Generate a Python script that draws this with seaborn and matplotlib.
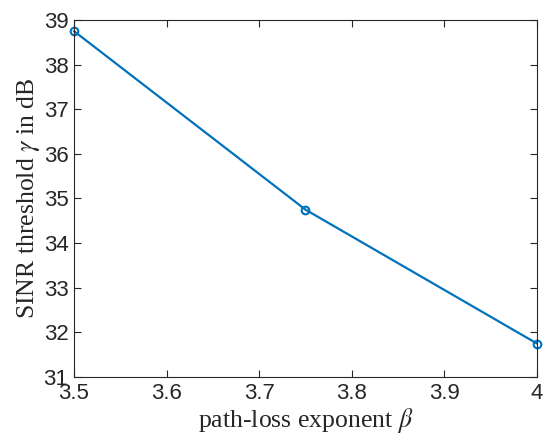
import matplotlib
matplotlib.use("Agg")
import matplotlib.pyplot as plt
import seaborn as sns
import pandas as pd

# data
beta = [3.5, 3.75, 4.0]
gamma_db = [38.75, 34.75, 31.75]

df = pd.DataFrame({"beta": beta, "gamma": gamma_db})

sns.set_style("ticks")
plt.rcParams["font.family"] = ["Liberation Sans", "DejaVu Sans"]
plt.rcParams["mathtext.fontset"] = "stix"
plt.rcParams["xtick.direction"] = "in"
plt.rcParams["ytick.direction"] = "in"

fig = plt.figure(figsize=(5.46, 4.34), dpi=100)
ax = fig.add_axes([0.1355, 0.1313, 0.848, 0.8227])

sns.lineplot(data=df, x="beta", y="gamma", ax=ax, color="#0072BD", linewidth=1.6,
             marker="o", markersize=5.5, markerfacecolor="none",
             markeredgecolor="#0072BD", markeredgewidth=1.5, clip_on=False)

ax.set_xlim(3.5, 4.0)
ax.set_ylim(31, 39)
ax.set_xticks([3.5, 3.6, 3.7, 3.8, 3.9, 4.0])
ax.set_xticklabels(["3.5", "3.6", "3.7", "3.8", "3.9", "4"])
ax.set_yticks(range(31, 40))
ax.tick_params(axis="both", which="both", top=True, right=True, length=5,
               width=0.8, color="#262626", labelsize=16, labelcolor="#262626", pad=4)
for s in ax.spines.values():
    s.set_visible(True)
    s.set_linewidth(0.8)
    s.set_color("#262626")

ax.set_xlabel(r"path-loss exponent $\beta$", fontsize=18.5, family="Liberation Serif",
              color="#262626", labelpad=1.5)
ax.set_ylabel(r"SINR threshold $\gamma$ in dB", fontsize=18.5, family="Liberation Serif",
              color="#262626", labelpad=1)

fig.savefig("out.png", dpi=100)
